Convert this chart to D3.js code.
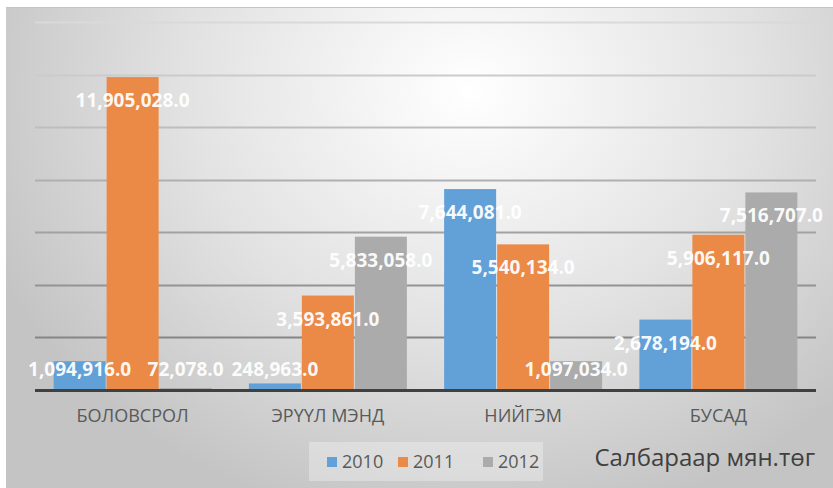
<!DOCTYPE html>
<html>
<head>
<meta charset="utf-8">
<script src="https://cdn.jsdelivr.net/npm/d3@7"></script>
<style>
  html, body { margin: 0; padding: 0; background: #ffffff; }
  svg { display: block; }
</style>
</head>
<body>
<svg id="chart" width="833" height="488"></svg>
<script>
const categories = ["БОЛОВСРОЛ", "ЭРҮҮЛ МЭНД", "НИЙГЭМ", "БУСАД"];
const seriesNames = ["2010", "2011", "2012"];
const values2010 = [1094916, 248963, 7644081, 2678194];
const values2011 = [11905028, 3593861, 5540134, 5906117];
const values2012 = [72078, 5833058, 1097034, 7516707];
const yTicks = [0, 2000000, 4000000, 6000000, 8000000, 10000000, 12000000, 14000000];
const chartTitle = "Салбараар мян.төг";

const colors = ["#62A0D8", "#EB8A46", "#ABABAB"];
const seriesValues = [values2010, values2011, values2012];

const svg = d3.select("#chart");
const defs = svg.append("defs");

const bg = defs.append("radialGradient").attr("id", "bg")
  .attr("gradientUnits", "userSpaceOnUse")
  .attr("cx", 470).attr("cy", 90).attr("r", 520)
  .attr("gradientTransform", "translate(470,90) scale(1,0.85) translate(-470,-90)");
bg.append("stop").attr("offset", "0%").attr("stop-color", "#ffffff");
bg.append("stop").attr("offset", "55%").attr("stop-color", "#e2e2e2");
bg.append("stop").attr("offset", "100%").attr("stop-color", "#c4c4c4");

const gridGrad = defs.append("linearGradient").attr("id", "gridGrad")
  .attr("gradientUnits", "userSpaceOnUse")
  .attr("x1", 0).attr("y1", 20).attr("x2", 0).attr("y2", 340);
gridGrad.append("stop").attr("offset", "0%").attr("stop-color", "#dadada");
gridGrad.append("stop").attr("offset", "100%").attr("stop-color", "#858585");

// Panel
svg.append("rect").attr("x", 6).attr("y", 7).attr("width", 827).attr("height", 481)
  .attr("fill", "url(#bg)");
svg.append("line").attr("x1", 6).attr("x2", 833).attr("y1", 7.5).attr("y2", 7.5)
  .attr("stroke", "#c4c4c4").attr("stroke-width", 1);

const plotLeft = 35, plotRight = 816, plotTop = 22, plotBottom = 390;

const x0 = d3.scaleBand().domain(categories).range([plotLeft, plotRight])
  .paddingInner(0.1857).paddingOuter(0.09285);
const x1 = d3.scaleBand().domain(seriesNames).range([0, x0.bandwidth()]).padding(0);
const y = d3.scaleLinear().domain([0, 14000000]).range([plotBottom, plotTop]);

// Gridlines
svg.append("g").selectAll("line").data(yTicks.filter(d => d > 0)).join("line")
  .attr("x1", plotLeft).attr("x2", plotRight)
  .attr("y1", d => Math.round(y(d)) + 0.5).attr("y2", d => Math.round(y(d)) + 0.5)
  .attr("stroke", "url(#gridGrad)").attr("stroke-width", 2);

// Bars
const groups = svg.append("g").selectAll("g").data(categories).join("g")
  .attr("transform", d => `translate(${x0(d)},0)`);

const barData = (c, ci) => seriesNames.map((s, si) => ({ s, si, v: seriesValues[si][ci] }));

groups.selectAll("rect").data((c, ci) => barData(c, ci)).join("rect")
  .attr("x", d => x1(d.s) + 0.5)
  .attr("width", x1.bandwidth() - 1)
  .attr("y", d => y(d.v))
  .attr("height", d => plotBottom - y(d.v))
  .attr("fill", d => colors[d.si]);

// Baseline
svg.append("line").attr("x1", plotLeft).attr("x2", plotRight)
  .attr("y1", plotBottom + 0.5).attr("y2", plotBottom + 0.5)
  .attr("stroke", "#404040").attr("stroke-width", 3);

// Data labels
const fmt = d3.format(",.1f");
groups.selectAll("text").data((c, ci) => barData(c, ci)).join("text")
  .attr("x", d => x1(d.s) + x1.bandwidth() / 2)
  .attr("y", d => Math.min(y(d.v) + 23, plotBottom - 21))
  .attr("text-anchor", "middle")
  .attr("dominant-baseline", "central")
  .attr("font-family", "'Open Sans', sans-serif")
  .attr("font-weight", "bold")
  .attr("font-size", 19)
  .attr("fill", "#ffffff")
  .attr("fill-opacity", 0.95)
  .text(d => fmt(d.v));

// Category axis labels
const xAxis = d3.axisBottom(x0).tickSize(0).tickPadding(0);
const xg = svg.append("g").attr("transform", `translate(0,${plotBottom})`).call(xAxis);
xg.select(".domain").remove();
xg.selectAll("text")
  .attr("y", 26)
  .attr("dy", "0.35em")
  .attr("font-family", "'Open Sans', sans-serif")
  .attr("font-size", 18)
  .attr("fill", "#595959");

// Legend
const legend = svg.append("g");
legend.append("rect").attr("x", 309).attr("y", 442).attr("width", 234).attr("height", 39)
  .attr("fill", "#ffffff").attr("fill-opacity", 0.3);
const legendX = [327, 398, 483];
const li = legend.selectAll("g.item").data(seriesNames).join("g").attr("class", "item")
  .attr("transform", (d, i) => `translate(${legendX[i]},462)`);
li.append("rect").attr("x", 0).attr("y", -5).attr("width", 10).attr("height", 10)
  .attr("fill", (d, i) => colors[i]);
li.append("text").attr("x", 15).attr("y", 0).attr("dy", "0.35em")
  .attr("font-family", "'Open Sans', sans-serif")
  .attr("font-size", 18).attr("fill", "#595959")
  .text(d => d);

// Title (bottom right)
svg.append("text").attr("x", 815).attr("y", 458).attr("dy", "0.35em")
  .attr("text-anchor", "end")
  .attr("font-family", "'Open Sans', sans-serif")
  .attr("font-size", 24).attr("fill", "#404040")
  .text(chartTitle);
</script>
</body>
</html>
